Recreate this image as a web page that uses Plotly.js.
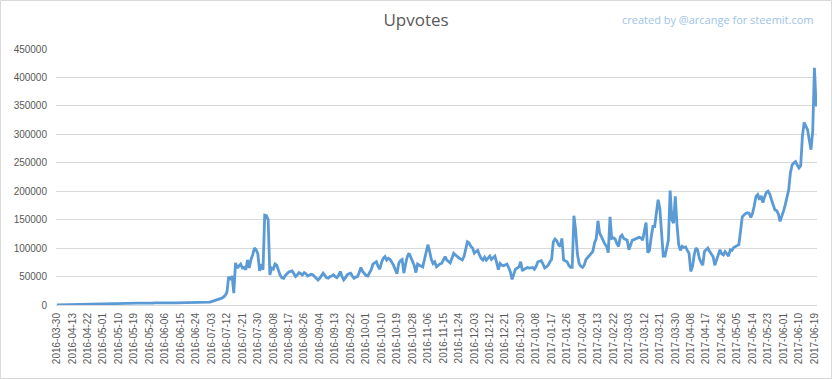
<!DOCTYPE html>
<html>
<head>
<meta charset="utf-8">
<script src="https://cdn.plot.ly/plotly-3.0.1.min.js"></script>
<style>
  html, body { margin: 0; padding: 0; background: #ffffff; }
  #chart { width: 832px; height: 379px; }
</style>
</head>
<body>
<div id="chart"></div>
<script>
// First dates of the series (sparse at the start), then daily from 2016-04-13
const firstDates = ['2016-03-30','2016-04-05','2016-04-06','2016-04-07','2016-04-08','2016-04-09','2016-04-10','2016-04-11','2016-04-12'];
const dailyStart = '2016-04-13';
const dailyCount = 434;

const tickLabels = ['2016-03-30','2016-04-13','2016-04-22','2016-05-01','2016-05-10','2016-05-19','2016-05-28','2016-06-06','2016-06-15','2016-06-24','2016-07-03','2016-07-12','2016-07-21','2016-07-30','2016-08-08','2016-08-17','2016-08-26','2016-09-04','2016-09-13','2016-09-22','2016-10-01','2016-10-10','2016-10-19','2016-10-28','2016-11-06','2016-11-15','2016-11-24','2016-12-03','2016-12-12','2016-12-21','2016-12-30','2017-01-08','2017-01-17','2017-01-26','2017-02-04','2017-02-13','2017-02-22','2017-03-03','2017-03-12','2017-03-21','2017-03-30','2017-04-08','2017-04-17','2017-04-26','2017-05-05','2017-05-14','2017-05-23','2017-06-01','2017-06-10','2017-06-19'];

const upvotes = [
  300,400,500,450,600,700,650,800,900,850,
  1000,1100,1050,1200,1300,1250,1400,1350,1500,1600,
  1550,1700,1800,1750,1900,2000,1950,2100,2200,2150,
  2300,2400,2350,2500,2450,2600,2700,2650,2800,2750,
  2900,3000,2950,3100,3000,3200,3150,3300,3200,3100,
  3300,3400,3350,3500,3400,3300,3450,3600,3500,3550,
  3400,3600,3700,3600,3500,3650,3800,3700,3600,3750,
  3800,3700,3900,3850,3700,3900,4000,3900,3800,4000,
  4100,4000,3900,4100,4200,4100,4000,4200,4500,5000,
  6000,7000,8000,9000,9500,10500,12000,14000,17000,22000,
  50000,44000,51000,21000,74000,65000,68000,72000,65000,66000,
  62000,79000,65000,80000,88000,100000,97000,90000,60000,72000,
  62000,158000,157000,150000,53000,65000,63000,72000,70000,59000,
  52000,48000,47000,52000,56000,58000,59000,60000,55000,50000,
  53000,57000,55000,53000,57000,55000,51000,52000,54000,53000,
  50000,47000,44000,47000,52000,56000,52000,48000,47000,50000,
  51000,53000,50000,48000,52000,59000,50000,44000,48000,53000,
  55000,56000,51000,47000,49000,50000,57000,66000,59000,55000,
  52000,51000,56000,62000,72000,74000,76000,68000,63000,75000,
  82000,85000,79000,82000,80000,75000,70000,62000,55000,73000,
  78000,80000,56000,72000,85000,91000,84000,76000,70000,57000,
  72000,70000,68000,67000,80000,95000,106000,94000,80000,73000,
  76000,67000,70000,72000,73000,78000,85000,79000,77000,74000,
  82000,91000,88000,85000,83000,81000,79000,85000,100000,111000,
  109000,103000,100000,91000,94000,96000,88000,82000,79000,84000,
  79000,82000,86000,80000,83000,86000,75000,62000,73000,70000,
  69000,71000,72000,66000,58000,45000,55000,63000,65000,67000,
  76000,60000,63000,65000,66000,65000,66000,66000,63000,68000,
  76000,77000,78000,72000,65000,67000,70000,76000,80000,111000,
  116000,113000,106000,103000,117000,79000,77000,76000,70000,66000,
  66000,157000,132000,90000,73000,68000,66000,70000,80000,84000,
  88000,90000,94000,109000,117000,148000,126000,120000,112000,107000,
  103000,92000,155000,117000,118000,116000,108000,103000,120000,123000,
  117000,115000,114000,97000,106000,114000,115000,116000,117000,119000,
  118000,114000,130000,145000,92000,96000,120000,138000,138000,160000,
  185000,170000,132000,86000,86000,100000,114000,201000,150000,144000,
  191000,141000,106000,96000,103000,101000,102000,96000,91000,59000,
  67000,88000,100000,97000,82000,75000,70000,94000,98000,100000,
  94000,90000,85000,70000,78000,88000,97000,90000,88000,94000,
  90000,86000,97000,96000,101000,103000,104000,106000,130000,155000,
  158000,161000,162000,161000,154000,161000,175000,191000,194000,185000,
  192000,180000,190000,198000,200000,195000,185000,175000,167000,166000,
  160000,147000,155000,165000,176000,190000,202000,232000,246000,250000,
  252000,246000,241000,245000,296000,321000,315000,308000,290000,273000,
  305000,417000,349000
];

// Build category list
const dates = firstDates.slice();
(function () {
  const d0 = new Date(dailyStart + 'T00:00:00Z');
  for (let k = 0; k < dailyCount; k++) {
    const d = new Date(d0.getTime() + k * 86400000);
    dates.push(d.toISOString().slice(0, 10));
  }
})();
const n = Math.min(dates.length, upvotes.length);
const xs = dates.slice(0, n);
const ys = upvotes.slice(0, n);

const font = 'Liberation Sans, Arial, sans-serif';
const W = 832, H = 379, L = 56, R = 15, T = 49, B = 74;
const pw = W - L - R, ph = H - T - B;

const trace = {
  type: 'scatter', mode: 'lines', x: xs, y: ys,
  line: { color: '#5b9bd5', width: 2.8 },
  hoverinfo: 'x+y'
};

const layout = {
  width: W, height: H,
  margin: { l: L, r: R, t: T, b: B },
  paper_bgcolor: '#ffffff', plot_bgcolor: '#ffffff',
  showlegend: false,
  title: {
    text: 'Upvotes', x: 0.5, xanchor: 'center', xref: 'container',
    y: 1 - 20 / H, yanchor: 'middle', yref: 'container',
    font: { family: 'Open Sans, Liberation Sans, sans-serif', size: 17, color: '#595959' }
  },
  xaxis: {
    type: 'category',
    range: [-0.5, n - 0.5],
    tickmode: 'array', tickvals: tickLabels, ticktext: tickLabels,
    tickangle: -90,
    tickfont: { family: font, size: 10, color: '#595959' },
    ticklabelstandoff: 3,
    showgrid: false, zeroline: false,
    showline: true, linecolor: '#d9d9d9', linewidth: 1,
    ticks: '', fixedrange: true
  },
  yaxis: {
    range: [0, 450000], dtick: 50000, tick0: 0,
    tickformat: 'd',
    tickfont: { family: font, size: 10, color: '#595959' },
    ticklabelstandoff: 8,
    gridcolor: '#d9d9d9', gridwidth: 1,
    zeroline: false, showline: false, ticks: '',
    fixedrange: true
  },
  annotations: [{
    text: 'created by @arcange for steemit.com',
    xref: 'paper', yref: 'paper',
    x: (815 - L) / pw, xanchor: 'right',
    y: (H - B - 19) / ph, yanchor: 'middle',
    showarrow: false,
    font: { family: 'Open Sans, Liberation Sans, sans-serif', size: 11, color: '#9dc3e6' }
  }],
  shapes: [{
    type: 'rect', xref: 'paper', yref: 'paper',
    x0: (0.5 - L) / pw, x1: (W - 0.5 - L) / pw,
    y0: (H - B - (H - 0.5)) / ph, y1: (H - B - 0.5) / ph,
    line: { color: '#d9d9d9', width: 1 }, fillcolor: 'rgba(0,0,0,0)',
    layer: 'below'
  }]
};

Plotly.newPlot('chart', [trace], layout, { displayModeBar: false, staticPlot: true });
</script>
</body>
</html>
